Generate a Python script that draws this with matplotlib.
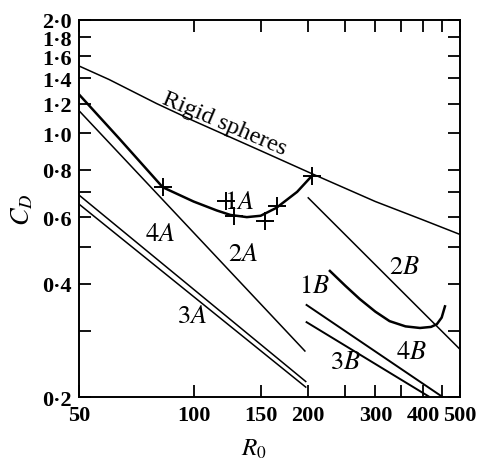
import matplotlib
matplotlib.use('Agg')
import matplotlib.pyplot as plt
from matplotlib.ticker import FixedLocator, FixedFormatter, NullFormatter

plt.rcParams['font.family'] = ['Liberation Serif', 'DejaVu Serif']
plt.rcParams['mathtext.fontset'] = 'stix'

# data (R0, CD)
rigid_x = [50, 60, 80, 100, 150, 200, 300, 400, 500]
rigid_y = [1.51, 1.39, 1.2, 1.08, 0.9, 0.79, 0.66, 0.59, 0.54]

c1a_x = [50, 64, 83, 100, 115, 125, 138, 150, 165, 187, 204]
c1a_y = [1.27, 0.966, 0.72, 0.66, 0.625, 0.608, 0.60, 0.605, 0.635, 0.70, 0.77]
pts1a_x = [83, 122, 128, 154, 166, 204]
pts1a_y = [0.72, 0.662, 0.604, 0.586, 0.643, 0.77]

c2a_x = [50, 196]
c2a_y = [1.15, 0.265]
c3a_x = [50, 197]
c3a_y = [0.65, 0.2126]
c4a_x = [50, 197]
c4a_y = [0.687, 0.22]

c1b_x = [228, 250, 273, 300, 327, 360, 393, 420, 435, 448, 457]
c1b_y = [0.432, 0.395, 0.364, 0.337, 0.318, 0.308, 0.305, 0.307, 0.312, 0.325, 0.348]
c2b_x = [200, 500]
c2b_y = [0.675, 0.268]
c3b_x = [198, 417]
c3b_y = [0.316, 0.2]
c4b_x = [198, 451]
c4b_y = [0.351, 0.2]

labels = ['$1A$', '$2A$', '$3A$', '$4A$', '$1B$', '$2B$', '$3B$', '$4B$']
lab_x = [132, 135, 99, 81.6, 208, 358, 250, 374]
lab_y = [0.658, 0.479, 0.328, 0.542, 0.394, 0.443, 0.248, 0.263]

yticks = [0.2, 0.4, 0.6, 0.8, 1.0, 1.2, 1.4, 1.6, 1.8, 2.0]
yticklabels = ['0\u00b72', '0\u00b74', '0\u00b76', '0\u00b78', '1\u00b70',
               '1\u00b72', '1\u00b74', '1\u00b76', '1\u00b78', '2\u00b70']
yminor = [0.3, 0.5, 0.7]
xticks = [50, 100, 150, 200, 300, 400, 500]
xticklabels = ['50', '100', '150', '200', '300', '400', '500']
xminor = [250, 350, 450]

fig = plt.figure(figsize=(4.78, 4.64), dpi=100)
ax = fig.add_axes([0.165, 0.142, 0.797, 0.813])
ax.set_xscale('log')
ax.set_yscale('log')
ax.set_xlim(50, 500)
ax.set_ylim(0.2, 2.0)

thin = 1.1
ax.plot(rigid_x, rigid_y, color='black', lw=thin)
ax.plot(c1a_x, c1a_y, color='black', lw=1.8)
ax.plot(pts1a_x, pts1a_y, ls='none', marker='+', ms=13, mew=1.4, color='black')
ax.plot(c2a_x, c2a_y, color='black', lw=thin)
ax.plot(c3a_x, c3a_y, color='black', lw=thin)
ax.plot(c4a_x, c4a_y, color='black', lw=thin)
ax.plot(c1b_x, c1b_y, color='black', lw=1.8)
ax.plot(c2b_x, c2b_y, color='black', lw=thin)
ax.plot(c3b_x, c3b_y, color='black', lw=1.4)
ax.plot(c4b_x, c4b_y, color='black', lw=1.4)

for t, x, y in zip(labels, lab_x, lab_y):
    ax.text(x, y, t, fontsize=19, ha='center', va='center')

ax.text(119, 1.03, 'Rigid spheres', fontsize=17.5, rotation=-23,
        ha='center', va='baseline', rotation_mode='anchor')

ax.yaxis.set_major_locator(FixedLocator(yticks))
ax.yaxis.set_major_formatter(FixedFormatter(yticklabels))
ax.yaxis.set_minor_locator(FixedLocator(yminor))
ax.yaxis.set_minor_formatter(NullFormatter())
ax.xaxis.set_major_locator(FixedLocator(xticks))
ax.xaxis.set_major_formatter(FixedFormatter(xticklabels))
ax.xaxis.set_minor_locator(FixedLocator(xminor))
ax.xaxis.set_minor_formatter(NullFormatter())

ax.tick_params(which='both', direction='in', length=8.5, width=1.3,
               top=True, right=True, labelsize=16)
ax.tick_params(axis='x', pad=6)
ax.tick_params(axis='y', pad=5)
for lab in ax.get_xticklabels() + ax.get_yticklabels():
    lab.set_fontweight('bold')
for s in ax.spines.values():
    s.set_linewidth(1.4)

ax.set_ylabel('$C_D$', fontsize=19)
ax.yaxis.set_label_coords(-0.115, 0.5)
ax.set_xlabel('$R_0$', fontsize=18)
ax.xaxis.set_label_coords(0.46, -0.105)

fig.savefig('out.png', dpi=100)
